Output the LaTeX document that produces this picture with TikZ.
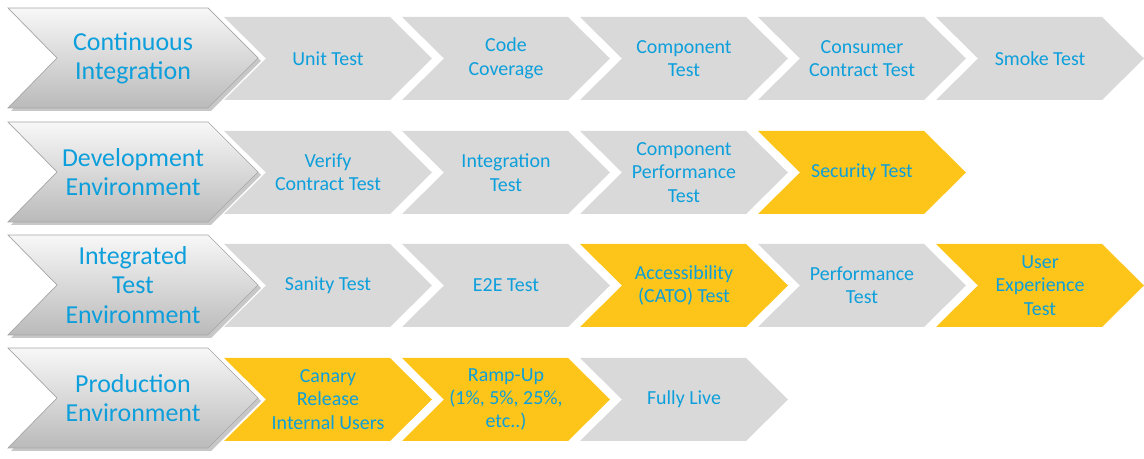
\documentclass[tikz,border=0pt]{standalone}
\usepackage{fontspec}
\setmainfont{Carlito}
\definecolor{stagegray}{HTML}{D9D9D9}
\definecolor{stageyellow}{HTML}{FDC51A}
\definecolor{labelblue}{HTML}{0C9FDB}
\definecolor{phaseedge}{HTML}{A6A6A6}

% chevron for one test stage: x of left edge, y of centre line, fill, name, label
\newcommand\stagebox[5]{%
  \fill[#3] (#1,#2-41.5) -- (#1+166,#2-41.5) -- (#1+208,#2) -- (#1+166,#2+41.5)
    -- (#1,#2+41.5) -- (#1+42,#2) -- cycle;
  \node[stagetext] (#4) at (#1+104,#2) {#5};}

% shaded chevron heading a row: y of centre line, name, label
\newcommand\phasebox[3]{%
  \fill[black, opacity=0.22] (11,#1-47) -- (211,#1-47) -- (261,#1+3) -- (211,#1+53)
    -- (11,#1+53) -- (60,#1+3) -- cycle;
  \shade[top color=white!97!black, bottom color=black!27, draw=phaseedge, line width=0.7]
    (8,#1-50) -- (208,#1-50) -- (258,#1) -- (208,#1+50) -- (8,#1+50) -- (57,#1) -- cycle;
  \node[phasetext] (#2) at (133,#1) {#3};}

\begin{document}
\begin{tikzpicture}[x=1bp, y=-1bp,
  stagetext/.style={text=labelblue, align=center, inner sep=0,
    font=\fontsize{20}{23.5}\selectfont},
  phasetext/.style={text=labelblue, align=center, inner sep=0,
    font=\fontsize{26}{29.5}\selectfont}]
\useasboundingbox (0,0) rectangle (1144,459);

% Continuous integration
\phasebox{58}{ci}{Continuous\\Integration}
\stagebox{224}{58.5}{stagegray}{unit}{Unit Test}
\stagebox{402}{58.5}{stagegray}{coverage}{Code\\Coverage}
\stagebox{580}{58.5}{stagegray}{component}{Component\\Test}
\stagebox{758}{58.5}{stagegray}{consumer}{Consumer\\Contract Test}
\stagebox{936}{58.5}{stagegray}{smoke}{Smoke Test}

% Development environment
\phasebox{172}{dev}{Development\\Environment}
\stagebox{224}{172.5}{stagegray}{verify}{Verify\\Contract Test}
\stagebox{402}{172.5}{stagegray}{integration}{Integration\\Test}
\stagebox{580}{172.5}{stagegray}{compperf}{Component\\Performance\\Test}
\stagebox{758}{172.5}{stageyellow}{security}{Security Test}

% Integrated test environment
\phasebox{285}{ite}{Integrated\\Test\\Environment}
\stagebox{224}{285.5}{stagegray}{sanity}{Sanity Test}
\stagebox{402}{285.5}{stagegray}{etoe}{E2E Test}
\stagebox{580}{285.5}{stageyellow}{access}{Accessibility\\(CATO) Test}
\stagebox{758}{285.5}{stagegray}{perf}{Performance\\Test}
\stagebox{936}{285.5}{stageyellow}{ux}{User\\Experience\\Test}

% Production environment
\phasebox{398}{prod}{Production\\Environment}
\stagebox{224}{399.5}{stageyellow}{canary}{Canary\\Release\\Internal Users}
\stagebox{402}{399.5}{stageyellow}{ramp}{Ramp-Up\\(1\%, 5\%, 25\%,\\etc..)}
\stagebox{580}{399.5}{stagegray}{live}{Fully Live}
\end{tikzpicture}
\end{document}
